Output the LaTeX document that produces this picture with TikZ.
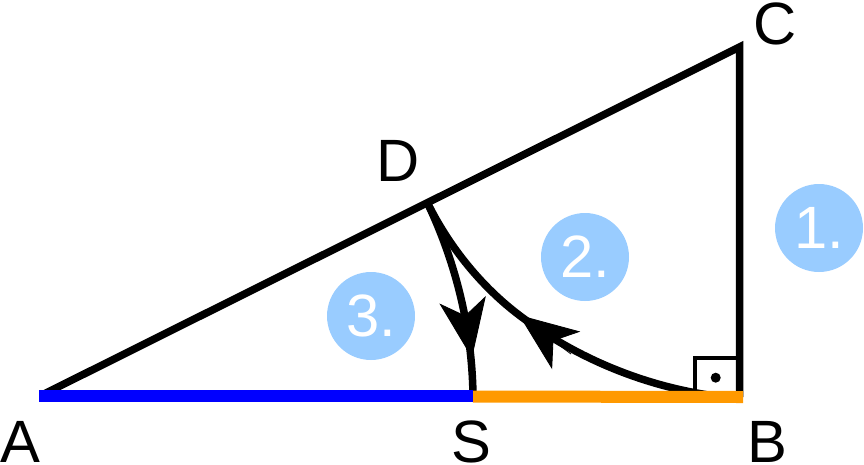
\documentclass[tikz,border=0pt]{standalone}
\usepackage{fontspec}
\setmainfont{Liberation Sans}
\usetikzlibrary{arrows.meta}
\definecolor{numblue}{RGB}{153,204,255}
\definecolor{segorange}{RGB}{255,153,0}
\tikzset{
  pointlabel/.style={anchor=base,inner sep=0pt,font=\fontsize{34}{34}\selectfont},
  numcircle/.style={circle,fill=numblue,text=white,inner sep=0pt,minimum size=1.76cm,font=\fontsize{34}{34}\selectfont},
  side/.style={line width=0.15cm,miter limit=10},
  arc/.style={line width=0.15cm},
  bigtip/.style={line width=0.5pt,-{Stealth[length=1.18cm,width=0.94cm,inset=0.32cm]}}
}
\begin{document}
\begin{tikzpicture}[x=0.02cm,y=-0.02cm]
\useasboundingbox (0,0) rectangle (864,464);
\coordinate (A) at (42,395);
\coordinate (B) at (739.5,397);
\coordinate (C) at (739.5,47);
\coordinate (D) at (428,204);
\coordinate (S) at (473,396);
\coordinate (tipS) at (472,358);
\coordinate (tailS) at (462,296);
\coordinate (tipB) at (519,315);
\coordinate (tailB) at (571,354);
\coordinate (E) at (724,397);
% labels
\node[pointlabel] (labA) at (20,462.5) {A};
\node[pointlabel] (labB) at (767,462.5) {B};
\node[pointlabel] (labC) at (775,44.5) {C};
\node[pointlabel] (labD) at (398,181) {D};
\node[pointlabel] (labS) at (471,462.5) {S};
% numbers
\node[numcircle] (one) at (819,228) {1.};
\node[numcircle] (two) at (585,257) {2.};
\node[numcircle] (three) at (371,316) {3.};
% triangle
\draw[side] (A) -- (C) -- (B);
\draw[line width=0.08cm] (694.5,397) -- (694.5,357.5) -- (739,357.5);
\fill (715.7,377.7) circle (0.1cm);
% curves
\draw[arc] (D) .. controls (452,255) and (472,320) .. (S);
\draw[bigtip] (tailS) -- (tipS);
\draw[arc] (E) .. controls (660,390) and (585,365) .. (tipB) .. controls (482,287) and (450,248) .. (D);
\draw[bigtip] (tailB) -- (tipB);
% base
\draw[line width=0.24cm,blue] (39,395.5) -- (473,395.5);
\draw[line width=0.24cm,segorange] (473,396.5) -- (743,397);
\end{tikzpicture}
\end{document}
